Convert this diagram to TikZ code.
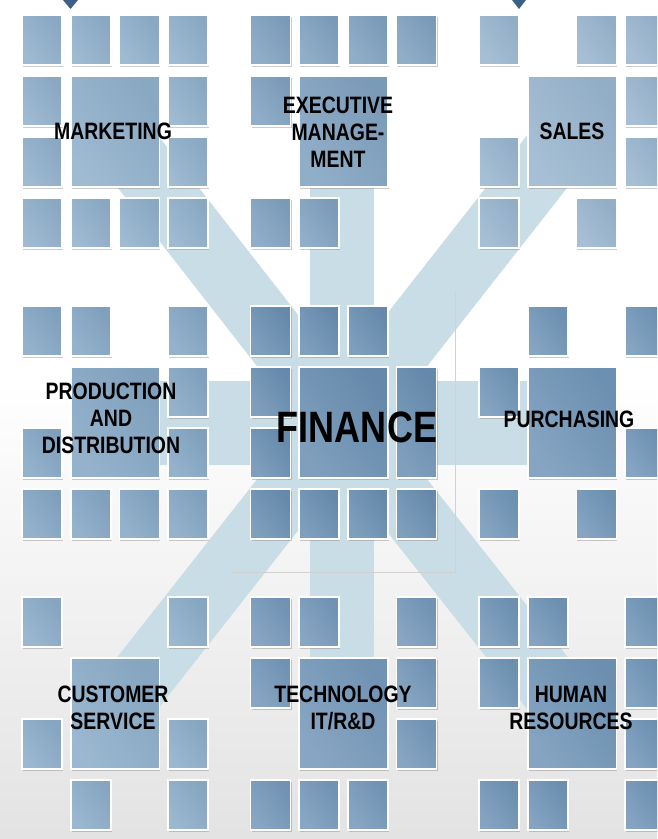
\documentclass[tikz,border=0pt]{standalone}
\usepackage{fontspec}
\usepackage{tikz}
\usetikzlibrary{shadows}
\newfontfamily\lblfont[FakeStretch=0.82]{Liberation Sans}
\definecolor{bandblue}{HTML}{C9DDE7}
\definecolor{mkt}{HTML}{8FAFCA}
\definecolor{exe}{HTML}{7FA1C0}
\definecolor{sal}{HTML}{98B5CE}
\definecolor{pro}{HTML}{84A6C4}
\definecolor{fin}{HTML}{6A8FB2}
\definecolor{pur}{HTML}{7196B8}
\definecolor{cus}{HTML}{8BACC8}
\definecolor{tec}{HTML}{7598BA}
\definecolor{hum}{HTML}{7095B7}
\definecolor{tipblue}{HTML}{3D5F86}

\begin{document}
\begin{tikzpicture}[x = 0.02cm, y = -0.02cm,
		tile/.style = {draw = white, line width = 1pt, left color = #1!86!white, right color = #1!96!black, shading angle = 125,
			drop shadow = {shadow xshift = 0.6pt, shadow yshift = -1.1pt, fill = black!45, opacity = 0.45}},
		band/.style = {bandblue, line width = 1.28cm},
		lbl/.style = {font = \lblfont\bfseries\fontsize{13.5}{15.4}\selectfont, align = center, inner sep = 0pt}]
		\useasboundingbox (0,0) rectangle (657,839);
		\clip (0,0) rectangle (657,839);
		\fill[white] (0,0) rectangle (657,839);
		\shade[top color = white, bottom color = black!11] (0,380) rectangle (657,839);
		
		\coordinate (hub) at (342,423);
		\coordinate (nw) at (114,131);
		\coordinate (n) at (342,131);
		\coordinate (ne) at (571,131);
		\coordinate (w) at (114,423);
		\coordinate (e) at (571,423);
		\coordinate (sw) at (114,713);
		\coordinate (s) at (342,713);
		\coordinate (se) at (571,713);
		
		\draw[band] (hub) -- (nw);
		\draw[band] (hub) -- (ne);
		\draw[band] (hub) -- (sw);
		\draw[band] (hub) -- (se);
		\draw[band] (n) -- (s);
		\draw[band, line width = 1.68cm] (w) -- (e);
		\draw[black!18, line width = 0.4pt] (232,572) -- (455,572) -- (455,292);
		
		\begin{scope}[shift = {(22,15)}]
			\foreach \c/\r in {0/0,1/0,2/0,3/0,0/1,3/1,0/2,3/2,0/3,1/3,2/3,3/3}
				\path[tile = mkt] ({48.7*\c},{61*\r}) rectangle ++(40,50);
			\path[tile = mkt] (48.7,61) rectangle ++(88.7,111);
		\end{scope}
		\begin{scope}[shift = {(250.5,15)}]
			\foreach \c/\r in {0/0,1/0,2/0,3/0,0/1,0/3,1/3}
				\path[tile = exe] ({48.7*\c},{61*\r}) rectangle ++(40,50);
			\path[tile = exe] (48.7,61) rectangle ++(88.7,111);
		\end{scope}
		\begin{scope}[shift = {(479,15)}]
			\foreach \c/\r in {0/0,2/0,3/0,3/1,0/2,3/2,0/3,2/3}
				\path[tile = sal] ({48.7*\c},{61*\r}) rectangle ++(40,50);
			\path[tile = sal] (48.7,61) rectangle ++(88.7,111);
		\end{scope}
		
		\begin{scope}[shift = {(22,306)}]
			\foreach \c/\r in {0/0,1/0,3/0,3/1,0/2,3/2,0/3,1/3,2/3,3/3}
				\path[tile = pro] ({48.7*\c},{61*\r}) rectangle ++(40,50);
			\path[tile = pro] (48.7,61) rectangle ++(88.7,111);
		\end{scope}
		\begin{scope}[shift = {(250.5,306)}]
			\foreach \c/\r in {0/0,1/0,2/0,0/1,0/2,0/3,1/3,2/3,3/3}
				\path[tile = fin] ({48.7*\c},{61*\r}) rectangle ++(40,50);
			\path[tile = fin] (48.7,61) rectangle ++(88.7,111);
			\path[tile = fin] (146.1,61) rectangle ++(40,111);
		\end{scope}
		\begin{scope}[shift = {(479,306)}]
			\foreach \c/\r in {1/0,3/0,0/1,3/2,0/3,2/3}
				\path[tile = pur] ({48.7*\c},{61*\r}) rectangle ++(40,50);
			\path[tile = pur] (48.7,61) rectangle ++(88.7,111);
		\end{scope}
		
		\begin{scope}[shift = {(22,597)}]
			\foreach \c/\r in {0/0,3/0,0/2,3/2,1/3,3/3}
				\path[tile = cus] ({48.7*\c},{61*\r}) rectangle ++(40,50);
			\path[tile = cus] (48.7,61) rectangle ++(88.7,111);
		\end{scope}
		\begin{scope}[shift = {(250.5,597)}]
			\foreach \c/\r in {0/0,1/0,3/0,0/1,3/1,3/2,0/3,1/3,2/3}
				\path[tile = tec] ({48.7*\c},{61*\r}) rectangle ++(40,50);
			\path[tile = tec] (48.7,61) rectangle ++(88.7,111);
		\end{scope}
		\begin{scope}[shift = {(479,597)}]
			\foreach \c/\r in {0/0,1/0,3/0,0/1,3/1,3/2,0/3,1/3,3/3}
				\path[tile = hum] ({48.7*\c},{61*\r}) rectangle ++(40,50);
			\path[tile = hum] (48.7,61) rectangle ++(88.7,111);
		\end{scope}
		
		\fill[tipblue] (63,0) -- (78,0) -- (70.5,9) -- cycle;
		\fill[tipblue] (512,0) -- (526,0) -- (519,9) -- cycle;
		
		\node[lbl] (marketing) at (113,131) {MARKETING};
		\node[lbl] (executive) at (338,132) {EXECUTIVE\\MANAGE-\\MENT};
		\node[lbl] (sales) at (572,131) {SALES};
		\node[lbl] (production) at (111,418) {PRODUCTION\\AND\\DISTRIBUTION};
		\node[lbl, font = \lblfont\bfseries\fontsize{25}{28}\selectfont] (finance) at (357,427) {FINANCE};
		\node[lbl] (purchasing) at (569,419) {PURCHASING};
		\node[lbl] (customer) at (113,708) {CUSTOMER\\SERVICE};
		\node[lbl] (technology) at (343,708) {TECHNOLOGY\\IT/R\&D};
		\node[lbl] (human) at (571,708) {HUMAN\\RESOURCES};
\end{tikzpicture}
\end{document}
